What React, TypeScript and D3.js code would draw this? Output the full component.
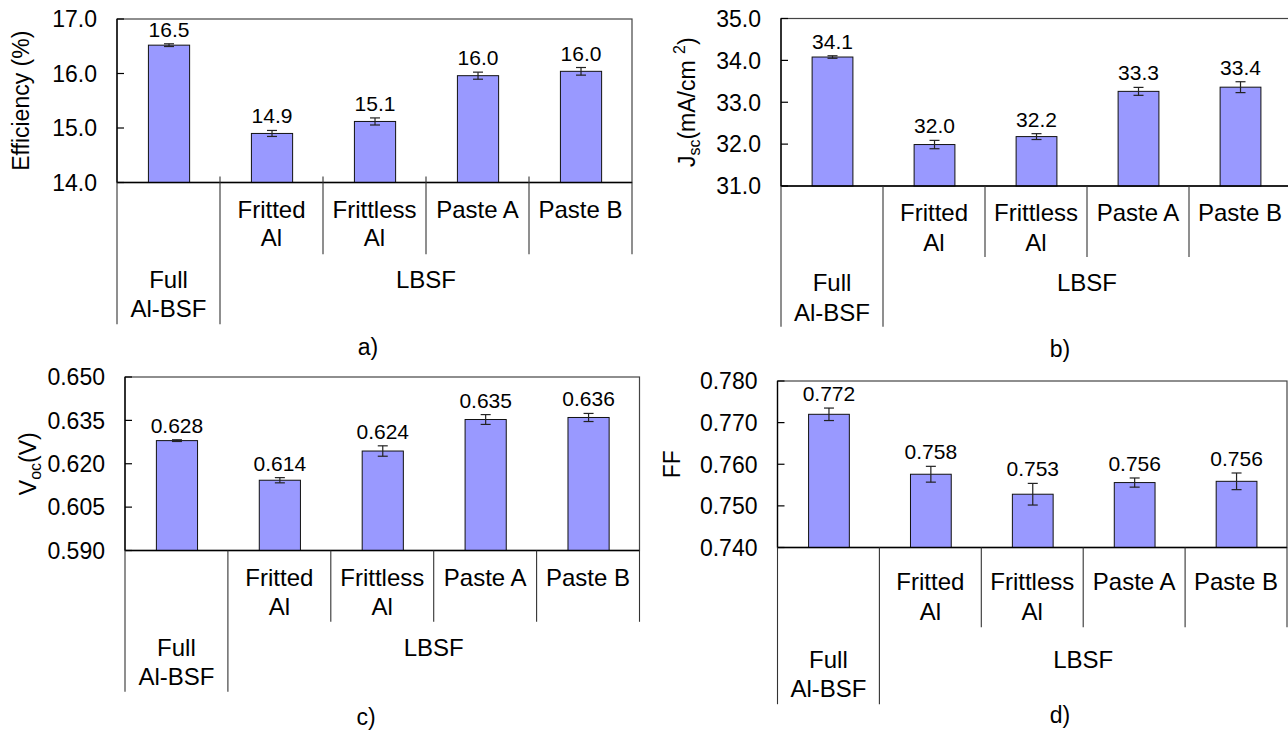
import React from "react";
import * as d3 from "d3";

// categories (two-level axis)
const categories = ["Full Al-BSF", "Fritted Al", "Frittless Al", "Paste A", "Paste B"];
const level1Labels = [[], ["Fritted", "Al"], ["Frittless", "Al"], ["Paste A"], ["Paste B"]];
const groupLabels = [
  { lines: ["Full", "Al-BSF"], from: 0, to: 0 },
  { lines: ["LBSF"], from: 1, to: 4 },
];

// a) efficiency
const effValues = [16.52, 14.9, 15.12, 15.96, 16.04];
const effErrors = [0.025, 0.055, 0.065, 0.065, 0.07];
const effTicks = [14, 15, 16, 17];

// b) Jsc
const jscValues = [34.08, 31.99, 32.18, 33.26, 33.36];
const jscErrors = [0.03, 0.1, 0.07, 0.095, 0.13];
const jscTicks = [31, 32, 33, 34, 35];

// c) Voc
const vocValues = [0.628, 0.6143, 0.6244, 0.6353, 0.636];
const vocErrors = [0.0003, 0.0009, 0.0018, 0.0017, 0.0014];
const vocTicks = [0.59, 0.605, 0.62, 0.635, 0.65];

// d) FF
const ffValues = [0.772, 0.7576, 0.7528, 0.7556, 0.7559];
const ffErrors = [0.0015, 0.0019, 0.0026, 0.0011, 0.002];
const ffTicks = [0.74, 0.75, 0.76, 0.77, 0.78];

const FONT = "'Liberation Sans', Arial, Helvetica, sans-serif";
const BAR_FILL = "#9999ff";

type PanelCfg = {
  id: string;
  values: number[];
  errors: number[];
  ticks: number[];
  fmt: string;
  tickFmt: string;
  left: number;
  right: number;
  top: number;
  bottom: number;
  rows: number[]; // level1 line1, line2, group line1, group line2 (offsets below axis)
  sepInner: number;
  sepOuter: number;
  crossTick: number;
  titleX: number;
  label: string;
  labelX: number;
  labelY: number;
};

const panels: PanelCfg[] = [
  {
    id: "eff", values: effValues, errors: effErrors, ticks: effTicks, fmt: ".1f", tickFmt: ".1f",
    left: 117, right: 632, top: 19, bottom: 182.5,
    rows: [35.4, 63.7, 105.7, 134.4], sepInner: 71.7, sepOuter: 141.7, crossTick: 6,
    titleX: 29, label: "a)", labelX: 368, labelY: 355,
  },
  {
    id: "jsc", values: jscValues, errors: jscErrors, ticks: jscTicks, fmt: ".1f", tickFmt: ".1f",
    left: 781, right: 1291, top: 18.5, bottom: 186,
    rows: [34.7, 64.7, 105, 134.7], sepInner: 71, sepOuter: 140.7, crossTick: 0,
    titleX: 695, label: "b)", labelX: 1060, labelY: 357,
  },
  {
    id: "voc", values: vocValues, errors: vocErrors, ticks: vocTicks, fmt: ".3f", tickFmt: ".3f",
    left: 125, right: 639.5, top: 377, bottom: 550.5,
    rows: [35, 64.3, 105, 134.3], sepInner: 71.3, sepOuter: 141.3, crossTick: 0,
    titleX: 36, label: "c)", labelX: 366, labelY: 725,
  },
  {
    id: "ff", values: ffValues, errors: ffErrors, ticks: ffTicks, fmt: ".3f", tickFmt: ".3f",
    left: 777.5, right: 1287, top: 381, bottom: 547.5,
    rows: [42.7, 72.7, 120.7, 149.7], sepInner: 79.7, sepOuter: 156.7, crossTick: 0,
    titleX: 680, label: "d)", labelX: 1060, labelY: 723,
  },
];

function YTitle({ id, x, y }: { id: string; x: number; y: number }) {
  const t = `translate(${x},${y}) rotate(-90)`;
  if (id === "eff") {
    return <text transform={t} textAnchor="middle" fontSize={23}>Efficiency (%)</text>;
  }
  if (id === "jsc") {
    return (
      <text transform={t} textAnchor="middle" fontSize={23}>
        J<tspan dy={5} fontSize={16}>sc</tspan>
        <tspan dy={-5}>(mA/cm </tspan>
        <tspan dy={-10} fontSize={16}>2</tspan>
        <tspan dy={10}>)</tspan>
      </text>
    );
  }
  if (id === "voc") {
    return (
      <text transform={t} textAnchor="middle" fontSize={23}>
        V<tspan dy={5} fontSize={16}>oc</tspan>
        <tspan dy={-5}>(V)</tspan>
      </text>
    );
  }
  return <text transform={t} textAnchor="middle" fontSize={23}>FF</text>;
}

function Panel({ cfg }: { cfg: PanelCfg }) {
  const x = d3.scaleBand<string>().domain(categories).range([cfg.left, cfg.right]).padding(0);
  const y = d3
    .scaleLinear()
    .domain([cfg.ticks[0], cfg.ticks[cfg.ticks.length - 1]])
    .range([cfg.bottom, cfg.top]);
  const bw = x.bandwidth();
  const fmt = d3.format(cfg.fmt);
  const tickFmt = d3.format(cfg.tickFmt);
  const axisY = cfg.bottom;
  const bounds = d3.range(categories.length + 1).map((i) => cfg.left + i * bw);

  return (
    <g>
      {/* plot border */}
      <rect x={cfg.left} y={cfg.top} width={cfg.right - cfg.left} height={cfg.bottom - cfg.top}
        fill="none" stroke="#444" strokeWidth={1.2} />

      {/* bars */}
      {categories.map((c, i) => {
        const v = cfg.values[i];
        const bx = (x(c) as number) + bw * 0.305;
        return (
          <rect key={c} x={bx} y={y(v)} width={bw * 0.4} height={axisY - y(v)}
            fill={BAR_FILL} stroke="#111" strokeWidth={1} />
        );
      })}

      {/* error bars */}
      {categories.map((c, i) => {
        const cx = (x(c) as number) + bw * 0.505;
        const hi = y(cfg.values[i] + cfg.errors[i]);
        const lo = y(cfg.values[i] - cfg.errors[i]);
        return (
          <g key={c} stroke="#222" strokeWidth={1.2}>
            <line x1={cx} x2={cx} y1={hi} y2={lo} />
            <line x1={cx - 5} x2={cx + 5} y1={hi} y2={hi} />
            <line x1={cx - 5} x2={cx + 5} y1={lo} y2={lo} />
          </g>
        );
      })}

      {/* value labels */}
      {categories.map((c, i) => {
        const cx = (x(c) as number) + bw * 0.505;
        const hi = y(cfg.values[i] + cfg.errors[i]);
        return (
          <text key={c} x={cx} y={hi - 7} textAnchor="middle" fontSize={21}>
            {fmt(cfg.values[i])}
          </text>
        );
      })}

      {/* y axis */}
      <line x1={cfg.left} x2={cfg.left} y1={cfg.top} y2={axisY} stroke="#000" strokeWidth={1.3} />
      {cfg.ticks.map((t) => (
        <g key={t}>
          <line x1={cfg.left} x2={cfg.left + 7} y1={y(t)} y2={y(t)} stroke="#000" strokeWidth={1.2} />
          <text x={cfg.left - 20} y={y(t)} dy="0.36em" textAnchor="end" fontSize={23}>
            {tickFmt(t)}
          </text>
        </g>
      ))}
      <YTitle id={cfg.id} x={cfg.titleX} y={(cfg.top + cfg.bottom) / 2} />

      {/* x axis */}
      <line x1={cfg.left} x2={cfg.right} y1={axisY} y2={axisY} stroke="#000" strokeWidth={1.3} />
      {bounds.map((bx, i) => {
        const outer = i === 0 || i === 1;
        const y2 = axisY + (outer ? cfg.sepOuter : cfg.sepInner);
        return (
          <line key={i} x1={bx} x2={bx} y1={axisY - (i > 0 && i < categories.length ? cfg.crossTick : 0)}
            y2={y2} stroke="#333" strokeWidth={1.1} />
        );
      })}

      {/* level-1 category labels */}
      {categories.map((c, i) => {
        const cx = (x(c) as number) + bw / 2;
        return level1Labels[i].map((ln, k) => (
          <text key={c + k} x={cx} y={axisY + cfg.rows[k]} textAnchor="middle" fontSize={24}>
            {ln}
          </text>
        ));
      })}

      {/* group labels */}
      {groupLabels.map((g) => {
        const cx = (bounds[g.from] + bounds[g.to + 1]) / 2;
        return g.lines.map((ln, k) => (
          <text key={g.lines[0] + k} x={cx} y={axisY + cfg.rows[2 + k]} textAnchor="middle" fontSize={24}>
            {ln}
          </text>
        ));
      })}

      <text x={cfg.labelX} y={cfg.labelY} textAnchor="middle" fontSize={23}>{cfg.label}</text>
    </g>
  );
}

export default function App() {
  return (
    <svg width={1288} height={732} viewBox="0 0 1288 732"
      style={{ position: "absolute", left: 0, top: 0, background: "#fff" }}
      fontFamily={FONT} fill="#000">
      <rect x={0} y={0} width={1288} height={732} fill="#fff" />
      {panels.map((p) => (
        <Panel key={p.id} cfg={p} />
      ))}
    </svg>
  );
}
